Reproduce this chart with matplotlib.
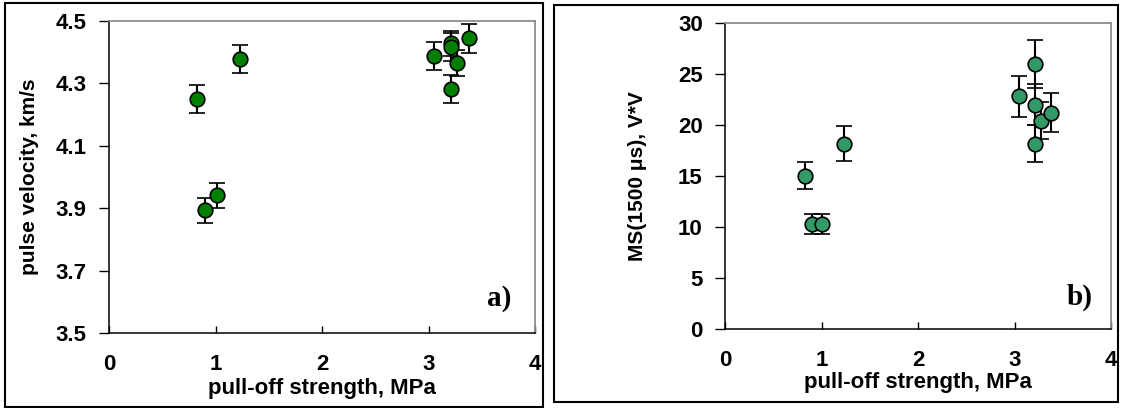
import matplotlib
matplotlib.use('Agg')
import matplotlib.pyplot as plt
from matplotlib.patches import Rectangle
import numpy as np

plt.rcParams['font.family'] = ['Liberation Sans', 'DejaVu Sans']
plt.rcParams['font.weight'] = 'bold'

# pull-off strength, MPa (same samples in both panels)
strength = [0.83, 0.90, 1.01, 1.23, 3.05, 3.21, 3.21, 3.21, 3.27, 3.38]

# panel a: pulse velocity, km/s
velocity = [4.251, 3.894, 3.942, 4.377, 4.388, 4.428, 4.418, 4.282, 4.366, 4.444]
velocity_err = [0.045, 0.04, 0.04, 0.045, 0.045, 0.04, 0.045, 0.045, 0.042, 0.045]

# panel b: MS(1500 us), V*V
ms_b = [15.0, 10.24, 10.24, 18.15, 22.77, 25.97, 21.98, 18.15, 20.41, 21.16]
ms_b_err = [1.35, 1.0, 1.0, 1.7, 2.05, 2.35, 2.0, 1.8, 1.85, 1.9]

x_ticks = [0, 1, 2, 3, 4]
a_ticks = [3.5, 3.7, 3.9, 4.1, 4.3, 4.5]
b_ticks = [0, 5, 10, 15, 20, 25, 30]

fig = plt.figure(figsize=(11.22, 4.08), dpi=100)

ax_a = fig.add_axes([109/1122, 75/408, 426/1122, 312/408])
ax_b = fig.add_axes([725/1122, 79.3/408, 386/1122, 306/408])


def style_axes(ax, yticks):
    ax.set_xlim(0, 4)
    ax.set_xticks(x_ticks)
    ax.set_yticks(yticks)
    ax.set_ylim(yticks[0], yticks[-1])
    for side in ['top', 'right']:
        ax.spines[side].set_color('#8c8c8c')
        ax.spines[side].set_linewidth(1.3)
    for side in ['left', 'bottom']:
        ax.spines[side].set_color('black')
        ax.spines[side].set_linewidth(1.1)
    ax.tick_params(axis='x', direction='in', length=5, width=1, pad=15, labelsize=16)
    ax.tick_params(axis='y', direction='out', length=7, width=1, pad=9, labelsize=16)
    for lab in ax.get_xticklabels() + ax.get_yticklabels():
        lab.set_fontweight('bold')


style_axes(ax_a, a_ticks)
style_axes(ax_b, b_ticks)

ax_a.set_yticklabels(['%.1f' % t for t in a_ticks], fontweight='bold')

ax_a.errorbar(strength, velocity, yerr=velocity_err, fmt='o', color='black',
              ecolor='black', elinewidth=1.5, capsize=6, capthick=1.5,
              markerfacecolor='#007f00', markeredgecolor='black',
              markeredgewidth=1.2, markersize=10.5, clip_on=False)
ax_b.errorbar(strength, ms_b, yerr=ms_b_err, fmt='o', color='black',
              ecolor='black', elinewidth=1.5, capsize=6, capthick=1.5,
              markerfacecolor='#339966', markeredgecolor='black',
              markeredgewidth=1.2, markersize=10.5, clip_on=False)

ax_a.set_xlabel('pull-off strength, MPa', fontsize=16, fontweight='bold', labelpad=2)
ax_a.set_ylabel('pulse velocity, km/s', fontsize=15, fontweight='bold', labelpad=12)
ax_b.set_xlabel('pull-off strength, MPa', fontsize=16, fontweight='bold', labelpad=1)
ax_b.set_ylabel('MS(1500 \u03bcs), V*V', fontsize=15, fontweight='bold', labelpad=22)

ax_a.text(3.66, 3.61, 'a)', fontsize=21, fontweight='bold', family='Liberation Serif',
          ha='center', va='center')
ax_b.text(3.67, 3.1, 'b)', fontsize=21, fontweight='bold', family='Liberation Serif',
          ha='center', va='center')

# outer frames around each panel
fig.patches.append(Rectangle((5/1122, 1/408), 538/1122, 404/408, transform=fig.transFigure,
                             fill=False, edgecolor='black', linewidth=1.5, zorder=10))
fig.patches.append(Rectangle((554/1122, 6/408), 564/1122, 397/408, transform=fig.transFigure,
                             fill=False, edgecolor='black', linewidth=1.5, zorder=10))

fig.savefig('out.png', dpi=100)
